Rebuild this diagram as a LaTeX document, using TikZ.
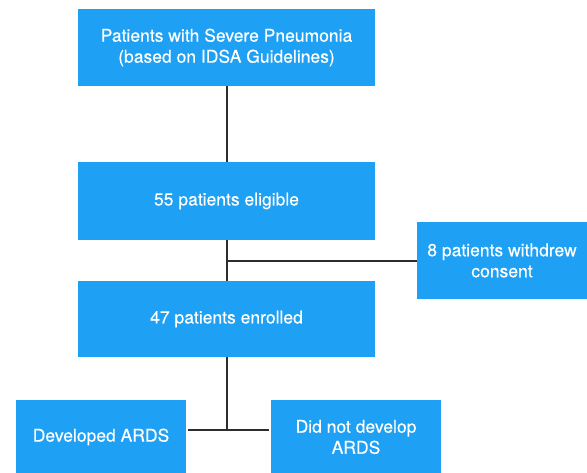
\documentclass[tikz,border=0pt]{standalone}
\usepackage{fontspec}
\setmainfont{TeX Gyre Heros}[FakeBold=0.35]
\usetikzlibrary{calc}
\definecolor{boxblue}{RGB}{30,160,244}
\definecolor{linegray}{RGB}{45,45,45}
\tikzset{
  flowbox/.style={rectangle, fill=boxblue, draw=none, text=white, align=center,
    inner sep=0pt, font=\fontsize{17.5}{21}\selectfont},
  conn/.style={draw=linegray, line width=2pt}
}
\begin{document}
\begin{tikzpicture}[x=1pt,y=-1pt]
\useasboundingbox (0,0) rectangle (587,472);
\node[flowbox, minimum width=297pt, minimum height=77pt] (b1) at (226.5,47.5)
  {Patients with Severe Pneumonia\\(based on IDSA Guidelines)};
\node[flowbox, minimum width=297pt, minimum height=78pt] (b2) at (226.5,201)
  {55 patients eligible};
\node[flowbox, minimum width=170pt, minimum height=77pt] (b3) at (502,260.5)
  {8 patients withdrew\\consent};
\node[flowbox, minimum width=297pt, minimum height=76pt] (b4) at (226.5,319)
  {47 patients enrolled};
\node[flowbox, minimum width=170pt, minimum height=74pt] (b5) at (101,437)
  {Developed ARDS};
\node[flowbox, minimum width=170pt, minimum height=74pt] (b6) at (356,437)
  {Did not develop\\ARDS};
\coordinate (j1) at (226.5,260.5);
\coordinate (j2) at (226.5,430);
\draw[conn] (b1.south) -- (b2.north);
\draw[conn] (b2.south) -- (b4.north);
\draw[conn] (j1) -- (b3.west |- j1);
\draw[conn] (b4.south) -- (j2);
\draw[conn, shorten <=2pt, shorten >=2pt] (b5.east |- j2) -- (b6.west |- j2);
\end{tikzpicture}
\end{document}
